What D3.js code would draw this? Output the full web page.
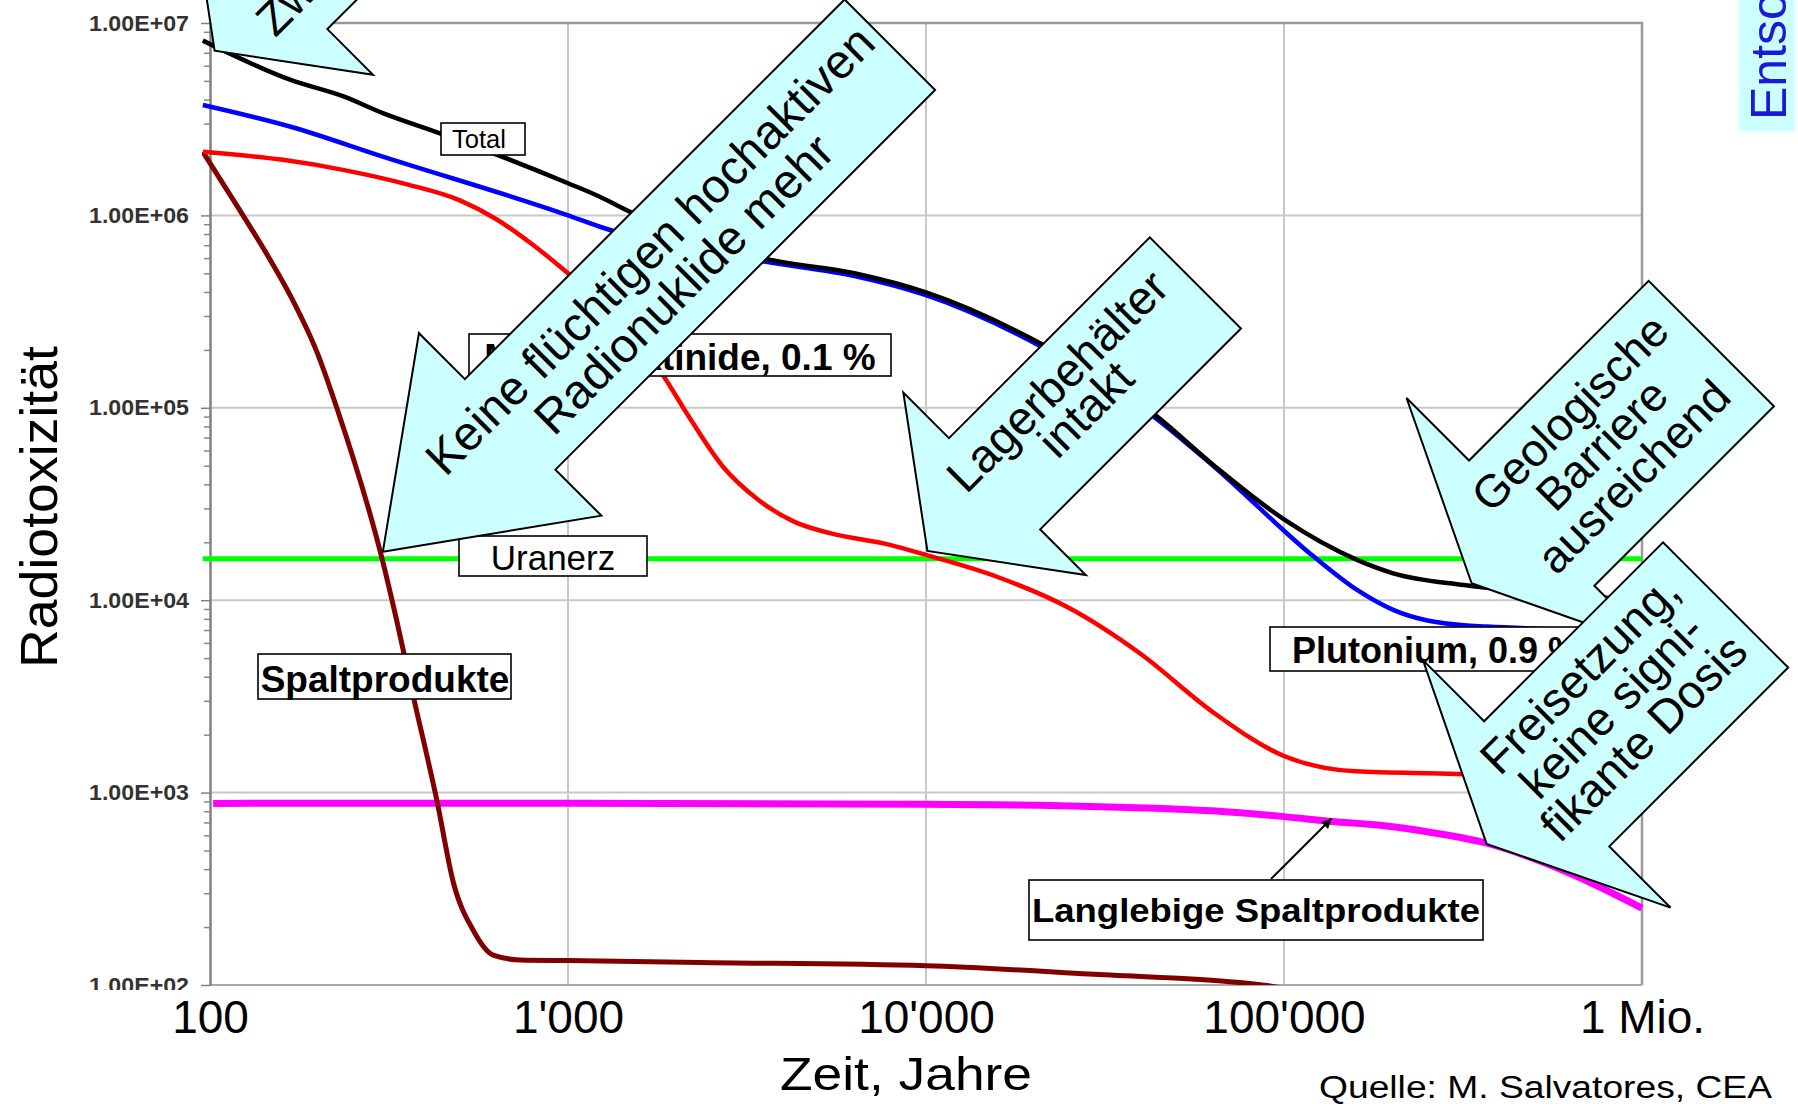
<!DOCTYPE html>
<html lang="de">
<head>
<meta charset="UTF-8">
<title>Radiotoxizität abgebrannter Brennelemente</title>
<style>
  body { margin: 0; background: #fff; }
  svg { display: block; font-family: "Liberation Sans", Arial, sans-serif; }
  .grid line { stroke: #c8c8c8; stroke-width: 2px; }
  .lbl rect { fill: #fff; stroke: #000; stroke-width: 1.6px; }
  .callout polygon { fill: #ccffff; stroke: #000; stroke-width: 2px; stroke-linejoin: miter; }
</style>
</head>
<body>
<svg id="main" width="1798" height="1106"></svg>

<script src="https://cdn.jsdelivr.net/npm/d3@7/dist/d3.min.js"></script>
<script>
// Achsen
var xTickVals = [100, 1000, 10000, 100000, 1000000];
var xTickLabels = ["100", "1'000", "10'000", "100'000", "1 Mio."];
var yTickVals = [1e2, 1e3, 1e4, 1e5, 1e6, 1e7];
var yTickLabels = ["1.00E+02", "1.00E+03", "1.00E+04", "1.00E+05", "1.00E+06", "1.00E+07"];

// Reihen (Jahre / Radiotoxizität)
var totalYears  = [95.5, 168, 237, 304, 439, 1000, 1227, 1496, 3548, 6310, 10000, 20890, 43250, 63830, 100000, 160000, 201800, 318400, 501000, 1000000];
var totalValues = [8.1e6, 5.06e6, 4.14e6, 3.4e6, 2.67e6, 1.47e6, 1.25e6, 1.04e6, 5.96e5, 5.0e5, 3.98e5, 2.16e5, 9.3e4, 5.0e4, 2.63e4, 1.62e4, 1.38e4, 1.2e4, 1.1e4, 1.0e4];

var puYears  = [95.5, 168, 304, 1000, 1227, 3548, 6310, 10000, 20890, 43250, 63830, 121300, 160000, 201800, 318400, 368100, 1000000];
var puValues = [3.75e6, 2.89e6, 2.02e6, 1.0e6, 8.73e5, 5.75e5, 4.84e5, 3.85e5, 2.09e5, 9.0e4, 4.94e4, 1.68e4, 1.13e4, 8.9e3, 7.4e3, 7.3e3, 6.8e3];

var maYears  = [95.5, 158, 237, 355, 497, 631, 794, 1000, 1413, 1854, 2148, 2710, 3404, 4276, 5395, 7925, 10000, 15850, 25120, 39810, 63100, 100000, 158500, 304100, 1000000];
var maValues = [2.14e6, 1.95e6, 1.72e6, 1.45e6, 1.2e6, 9.55e5, 7.08e5, 5.0e5, 2.8e5, 1.45e5, 9.35e4, 4.94e4, 3.32e4, 2.56e4, 2.23e4, 1.94e4, 1.72e4, 1.32e4, 9.1e3, 5.25e3, 2.63e3, 1.55e3, 1.29e3, 1.25e3, 1.12e3];

var spYears  = [95.5, 119, 145, 168, 200, 226, 303, 332, 370, 430, 479, 543, 618, 735, 1000, 2339, 10000, 28580, 87100, 126000];
var spValues = [2.14e6, 1.12e6, 6.17e5, 3.8e5, 1.9e5, 1.0e5, 1.62e4, 7.9e3, 3.15e3, 916, 338, 193, 143, 135, 134, 131, 126, 114, 100, 89];

var lspYears  = [102, 1000, 10000, 30690, 63100, 100000, 135800, 185400, 263000, 368100, 631000, 1000000];
var lspValues = [879, 881, 871, 845, 804, 750, 708, 676, 617, 546, 380, 251];

var uranYears  = [95.5, 1000000];
var uranValues = [16400, 16400];

var W = 1798, H = 1106;
var pL = 210, pR = 1642, pT = 23, pB = 985;
var svg = d3.select("#main");

var x = d3.scaleLog().domain([100, 1e6]).range([pL, pR]);
var y = d3.scaleLog().domain([100, 1e7]).range([pB, pT]);

var defs = svg.append("defs");
defs.append("clipPath").attr("id", "plot")
    .append("rect").attr("x", pL - 8).attr("y", pT).attr("width", pR - pL + 14).attr("height", pB - pT);
defs.append("clipPath").attr("id", "ylab")
    .append("rect").attr("x", 0).attr("y", 0).attr("width", W).attr("height", 990);
defs.append("marker").attr("id", "head").attr("viewBox", "0 0 10 10")
    .attr("refX", 10).attr("refY", 5).attr("markerWidth", 6).attr("markerHeight", 5)
    .attr("markerUnits", "strokeWidth").attr("orient", "auto")
    .append("path").attr("d", "M0,0 L10,5 L0,10 Z").attr("fill", "#000");

// Gitter
var grid = svg.append("g").attr("class", "grid");
grid.selectAll(".gy").data(yTickVals.slice(1, 5)).enter().append("line")
    .attr("x1", pL).attr("x2", pR).attr("y1", function(d) { return y(d); }).attr("y2", function(d) { return y(d); });
grid.selectAll(".gx").data(xTickVals.slice(1, 4)).enter().append("line")
    .attr("y1", pT).attr("y2", pB).attr("x1", function(d) { return x(d); }).attr("x2", function(d) { return x(d); });

svg.append("path")
    .attr("d", "M" + pL + "," + pT + "H" + pR + "V" + pB)
    .attr("fill", "none").attr("stroke", "#999").attr("stroke-width", 2.5);
svg.append("line").attr("x1", pL).attr("x2", pR).attr("y1", pB).attr("y2", pB)
    .attr("stroke", "#a8a8a8").attr("stroke-width", 2);

// y-Achse
var minors = [];
[1e2, 1e3, 1e4, 1e5, 1e6].forEach(function(d) {
    for (var k = 2; k < 10; k++) minors.push(d * k);
});
var yMinor = svg.append("g").attr("transform", "translate(" + pL + ",0)")
    .call(d3.axisLeft(y).tickValues(minors).tickFormat("").tickSize(6).tickSizeOuter(0));
yMinor.select(".domain").remove();
yMinor.selectAll("line").attr("stroke", "#888").attr("stroke-width", 1.5);

var yAxis = svg.append("g").attr("clip-path", "url(#ylab)")
    .append("g").attr("transform", "translate(" + pL + ",0)")
    .call(d3.axisLeft(y).tickValues(yTickVals)
        .tickFormat(function(d, i) { return yTickLabels[i]; })
        .tickSize(9).tickPadding(12).tickSizeOuter(0));
yAxis.attr("font-family", null).attr("font-size", null);
yAxis.select(".domain").attr("stroke", "#808080").attr("stroke-width", 2.5);
yAxis.selectAll("line").attr("stroke", "#808080").attr("stroke-width", 1.5);
yAxis.selectAll("text").attr("font-size", 22).attr("font-weight", "bold").attr("fill", "#333")
    .attr("textLength", 100).attr("lengthAdjust", "spacingAndGlyphs");

// x-Achse
var xAxis = svg.append("g").attr("transform", "translate(0," + pB + ")")
    .call(d3.axisBottom(x).tickValues(xTickVals)
        .tickFormat(function(d, i) { return xTickLabels[i]; })
        .tickSize(0).tickPadding(15));
xAxis.attr("font-family", null).attr("font-size", null);
xAxis.select(".domain").remove();
xAxis.selectAll("text").attr("font-size", 46).attr("fill", "#000");

// Kurven
var series = [
    { years: uranYears,  values: uranValues,  color: "#00ff00", width: 5 },
    { years: lspYears,   values: lspValues,   color: "#ff00ff", width: 7 },
    { years: spYears,    values: spValues,    color: "#800000", width: 5 },
    { years: maYears,    values: maValues,    color: "#ff0000", width: 4.5 },
    { years: puYears,    values: puValues,    color: "#0000ff", width: 4.5 },
    { years: totalYears, values: totalValues, color: "#000000", width: 4.5 }
];
var line = d3.line()
    .x(function(d) { return x(d[0]); })
    .y(function(d) { return y(d[1]); })
    .curve(d3.curveMonotoneX);

var curves = svg.append("g").attr("clip-path", "url(#plot)");
series.forEach(function(s) {
    curves.append("path")
        .attr("d", line(d3.zip(s.years, s.values)))
        .attr("fill", "none").attr("stroke", s.color)
        .attr("stroke-width", s.width).attr("stroke-linejoin", "round");
});

// Beschriftungen der Kurven
var labels = [
    { text: "Total", x: 441, y: 123, w: 84, h: 32, tx: 479, ty: 148, size: 26, bold: false, len: 54 },
    { text: "Minore Aktinide, 0.1 %", x: 469, y: 334, w: 422, h: 42, tx: 680, ty: 370, size: 37, bold: true },
    { text: "Uranerz", x: 459, y: 536, w: 188, h: 40, tx: 553, ty: 570, size: 35, bold: false },
    { text: "Spaltprodukte", x: 258, y: 654, w: 253, h: 45, tx: 385, ty: 692, size: 37, bold: true },
    { text: "Plutonium, 0.9 %", x: 1270, y: 627, w: 330, h: 44, tx: 1436, ty: 663, size: 36, bold: true },
    { text: "Langlebige Spaltprodukte", x: 1029, y: 880, w: 454, h: 60, tx: 1256, ty: 922, size: 34, bold: true, len: 448 }
];

// Pfeil zur Kurve der langlebigen Spaltprodukte
svg.append("line")
    .attr("x1", 1271).attr("y1", 879)
    .attr("x2", x(135800)).attr("y2", y(708) - 3)
    .attr("stroke", "#000").attr("stroke-width", 2).attr("marker-end", "url(#head)");

labels.forEach(function(l) {
    var g = svg.append("g").attr("class", "lbl");
    g.append("rect").attr("x", l.x).attr("y", l.y).attr("width", l.w).attr("height", l.h);
    var t = g.append("text").attr("x", l.tx).attr("y", l.ty).attr("text-anchor", "middle")
        .attr("font-size", l.size).attr("font-weight", l.bold ? "bold" : "normal").text(l.text);
    if (l.len) t.attr("textLength", l.len).attr("lengthAdjust", "spacingAndGlyphs");
});

// Pfeile mit Text (Spitze an Datenpunkt, um -45° gedreht)
var callouts = [
    { t: 103, v: 7.18e6, head: 95, headHalf: 129, boxHalf: 64.5, boxLen: 420, font: 46, u: 200,
      lines: [["Zwischenlager", 34]] },
    { t: 304, v: 17870, head: 180, headHalf: 129, boxHalf: 64, boxLen: 537, font: 48, u: 402,
      lines: [["Keine flüchtigen hochaktiven", -8], ["Radionuklide mehr", 40]] },
    { t: 10090, v: 18030, head: 95, headHalf: 129, boxHalf: 64.5, boxLen: 284, font: 47, u: 212,
      lines: [["Lagerbehälter", -12], ["intakt", 28]] },
    { t: 334200, v: 12250, head: 85, headHalf: 177, boxHalf: 88.6, boxLen: 254, font: 46, u: 190,
      lines: [["Geologische", -35], ["Barriere", 10], ["ausreichend", 55]] },
    { t: 368100, v: 541, head: 85, headHalf: 175, boxHalf: 88.5, boxLen: 253, font: 47, u: 186,
      lines: [["Freisetzung,", -38], ["keine signi-", 7], ["fikante Dosis", 52]] }
];

callouts.forEach(function(c) {
    var h = c.head, L = c.head + c.boxLen;
    var g = svg.append("g").attr("class", "callout")
        .attr("transform", "translate(" + x(c.t) + "," + y(c.v) + ") rotate(-45)");
    g.append("polygon").attr("points", [
        [0, 0], [h, -c.headHalf], [h, -c.boxHalf], [L, -c.boxHalf],
        [L, c.boxHalf], [h, c.boxHalf], [h, c.headHalf]
    ].join(" "));
    c.lines.forEach(function(ln) {
        g.append("text").attr("x", c.u).attr("y", ln[1]).attr("text-anchor", "middle")
            .attr("font-size", c.font).attr("fill", "#000").text(ln[0]);
    });
});

// Achsentitel und Quelle
svg.append("text").attr("transform", "translate(57,507) rotate(-90)")
    .attr("text-anchor", "middle").attr("font-size", 52)
    .attr("textLength", 322).attr("lengthAdjust", "spacingAndGlyphs").text("Radiotoxizität");
svg.append("text").attr("x", 906).attr("y", 1090).attr("text-anchor", "middle")
    .attr("font-size", 46).attr("textLength", 252).attr("lengthAdjust", "spacingAndGlyphs")
    .text("Zeit, Jahre");
svg.append("text").attr("x", 1319).attr("y", 1098).attr("font-size", 31)
    .attr("textLength", 453).attr("lengthAdjust", "spacingAndGlyphs")
    .text("Quelle: M. Salvatores, CEA");

// Rand rechts oben
svg.append("rect").attr("x", 1739).attr("y", 0).attr("width", 56).attr("height", 131).attr("fill", "#ccffff");
svg.append("text").attr("transform", "translate(1786,120) rotate(-90)")
    .attr("font-size", 50).attr("fill", "#1a1ad8").text("Entsorgung");
</script>
</body>
</html>
